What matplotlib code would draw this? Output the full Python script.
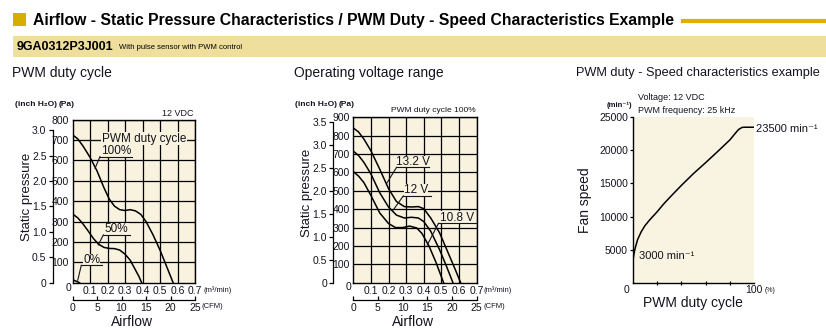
import matplotlib as mpl
mpl.use('Agg')
import matplotlib.pyplot as plt
from matplotlib import font_manager
from matplotlib.patches import Rectangle
from matplotlib.lines import Line2D


def has_font(name):
    try:
        font_manager.findfont(name, fallback_to_default=False)
        return True
    except ValueError:
        return False


NARROW = 'Liberation Sans Narrow' if has_font('Liberation Sans Narrow') else 'Liberation Sans'
plt.rcParams['font.family'] = ['Liberation Sans', 'DejaVu Sans']

# ---- data -------------------------------------------------------------
PA_PER_INCH = 249.09

# PWM duty cycle (12 VDC)
flow_100 = [0, 0.03, 0.06, 0.10, 0.14, 0.18, 0.21, 0.24, 0.27, 0.30, 0.33, 0.36, 0.39, 0.42, 0.46, 0.50, 0.54, 0.575]
pa_100 = [725, 705, 670, 615, 548, 465, 410, 375, 358, 354, 358, 352, 335, 300, 235, 160, 75, 0]
flow_50 = [0, 0.03, 0.06, 0.09, 0.12, 0.15, 0.18, 0.21, 0.24, 0.27, 0.30, 0.33, 0.36, 0.38, 0.395]
pa_50 = [337, 318, 288, 253, 216, 188, 173, 168, 167, 160, 140, 110, 62, 30, 0]
flow_0 = [0, 0.04]
pa_0 = [15, 0]

# operating voltage range (PWM 100%)
flow_132 = [0, 0.03, 0.06, 0.10, 0.15, 0.20, 0.245, 0.29, 0.33, 0.37, 0.40, 0.44, 0.49, 0.54, 0.58, 0.61]
pa_132 = [842, 820, 782, 718, 618, 512, 442, 414, 412, 414, 403, 352, 272, 160, 70, 0]
flow_120 = [0, 0.03, 0.06, 0.10, 0.15, 0.20, 0.245, 0.29, 0.33, 0.37, 0.40, 0.44, 0.49, 0.53, 0.566]
pa_120 = [716, 692, 655, 592, 490, 412, 368, 352, 356, 352, 333, 280, 180, 88, 0]
flow_108 = [0, 0.03, 0.06, 0.10, 0.15, 0.20, 0.24, 0.28, 0.32, 0.36, 0.39, 0.43, 0.47, 0.513]
pa_108 = [604, 580, 545, 475, 380, 322, 300, 300, 308, 298, 268, 200, 110, 0]

# PWM duty - speed
duty = [0, 1, 2, 4, 7, 10, 14, 20, 25, 30, 40, 50, 60, 70, 80, 84, 87, 90, 93, 100]
speed = [3000, 4300, 5200, 6500, 7700, 8600, 9500, 10700, 11800, 12800, 14700, 16500, 18150, 19850,
         21600, 22500, 23150, 23480, 23500, 23500]

flow_ticks = [0.1, 0.2, 0.3, 0.4, 0.5, 0.6, 0.7]
cfm_ticks = [0, 5, 10, 15, 20, 25]

# ---- figure -----------------------------------------------------------
W, H = 826, 333
fig = plt.figure(figsize=(W / 100, H / 100), dpi=100)
INK = '#14141f'
BG = '#f8f2de'
GOLD = '#d6ad00'


def box(l, t, r, b):
    return [l / W, 1 - b / H, (r - l) / W, (b - t) / H]


def ftext(x, y, s, **kw):
    kw.setdefault('color', INK)
    kw.setdefault('va', 'center')
    return fig.text(x / W, 1 - y / H, s, **kw)


# header
fig.patches.append(Rectangle((13.3 / W, 1 - 26 / H), 12.7 / W, 12.7 / H, transform=fig.transFigure,
                             color=GOLD, lw=0))
ftext(33, 20, 'Airflow - Static Pressure Characteristics / PWM Duty - Speed Characteristics Example',
      size=11.3, weight='bold', color='black')
fig.lines.append(Line2D([683 / W, 1], [1 - 20.5 / H] * 2, transform=fig.transFigure, color='#d9b300', lw=3))
fig.patches.append(Rectangle((12.7 / W, 1 - 57 / H), 1, 21.3 / H, transform=fig.transFigure,
                             color='#efdf9c', lw=0))
ftext(16.7, 47, '9GA0312P3J001', size=9, weight='bold', color='black')
ftext(119, 47.5, 'With pulse sensor with PWM control', size=5.5, color='black')


def pressure_panel(rect, inch_x, pa_max, inch_max):
    ax = fig.add_axes(rect)
    ax.set_facecolor(BG)
    ax.set_xlim(0, 0.7)
    ax.set_ylim(0, pa_max)
    ax.set_xticks(flow_ticks)
    ax.set_xticklabels([f'{v:.1f}' for v in flow_ticks])
    ax.set_yticks(range(100, pa_max + 1, 100))
    ax.grid(True, color='black', lw=0.9)
    ax.set_axisbelow(True)
    ax.tick_params(length=0, pad=2.5, labelsize=7.5, labelcolor=INK, labelfontfamily=NARROW)
    for s in ax.spines.values():
        s.set_linewidth(1.0)

    # inch H2O scale
    l, b, w, h = rect
    axi = fig.add_axes([inch_x / W, b, 0.0001, h])
    axi.patch.set_visible(False)
    axi.set_ylim(0, pa_max / PA_PER_INCH)
    ticks = [i * 0.5 for i in range(int(inch_max / 0.5) + 1)]
    axi.set_yticks(ticks)
    axi.set_yticklabels(['0' if t == 0 else f'{t:.1f}' for t in ticks])
    axi.set_xticks([])
    for k in ['top', 'right', 'bottom']:
        axi.spines[k].set_visible(False)
    axi.spines['left'].set_bounds(0, inch_max)
    axi.spines['left'].set_linewidth(0.9)
    axi.tick_params(axis='y', length=3, width=0.9, pad=1.5, labelsize=7.5, labelcolor=INK,
                    labelfontfamily=NARROW)

    # CFM scale
    axc = fig.add_axes([l, 1 - 300 / H, w, 0.0001])
    axc.patch.set_visible(False)
    axc.set_xlim(0, 25)
    axc.set_xticks(cfm_ticks)
    axc.set_yticks([])
    for k in ['top', 'right', 'left']:
        axc.spines[k].set_visible(False)
    axc.spines['bottom'].set_linewidth(0.9)
    axc.tick_params(axis='x', direction='in', length=3, width=0.9, pad=2, labelsize=7.5,
                    labelcolor=INK, labelfontfamily=NARROW)
    return ax


def callout(ax, label, tx, ty, ul, uy, tip):
    # underline + leader drawn above the text's masking box
    ax.plot(ul, [uy, uy], color=INK, lw=0.8, zorder=5)
    ax.plot([ul[0], tip[0]], [uy, tip[1]], color=INK, lw=0.8, zorder=5)
    ax.text(tx, ty, label, ha='center', va='center', size=8.5, color=INK, zorder=4,
            bbox=dict(fc=BG, ec='none', pad=0.2))


# ---- panel 1: PWM duty cycle -------------------------------------------
ax1 = pressure_panel(box(72.5, 119.5, 195, 282.7), 52.7, 800, 3.0)
ax1.plot(flow_100, pa_100, color='black', lw=1.1)
ax1.plot(flow_50, pa_50, color='black', lw=1.1)
ax1.plot(flow_0, pa_0, color='black', lw=1.1)
ax1.plot([0.06, 0.68], [700, 700], color=INK, lw=0.8)
ax1.text(0.41, 706, 'PWM duty cycle', ha='center', va='center', size=8.5, color=INK,
         bbox=dict(fc=BG, ec='none', pad=0.5))
callout(ax1, '100%', 0.252, 645, [0.157, 0.338], 618, (0.129, 561))
callout(ax1, '50%', 0.252, 261, [0.176, 0.329], 234, (0.147, 185))
callout(ax1, '0%', 0.11, 110, [0.05, 0.17], 85, (0.03, 12))

ftext(12, 73, 'PWM duty cycle', size=10)
ftext(15, 105, '(inch H\u2082O)', size=6, weight='bold', family=[NARROW, 'DejaVu Sans'])
ftext(59, 105, '(Pa)', size=6, weight='bold', family=NARROW)
ftext(193, 113, '12 VDC', size=6.5, ha='right')
ftext(68, 288, '0', size=7.5, ha='center', family=NARROW)
ftext(203, 290, '(m\u00b3/min)', size=5.5, family=NARROW)
ftext(202, 307, '(CFM)', size=5.5, family=NARROW)
ftext(26.7, 196.7, 'Static pressure', size=9.5, rotation=90, ha='center')
ftext(131.7, 321.7, 'Airflow', size=10, ha='center')

# ---- panel 2: operating voltage range ----------------------------------
ax2 = pressure_panel(box(353.3, 117.3, 476.5, 282.7), 333.3, 900, 3.5)
ax2.plot(flow_132, pa_132, color='black', lw=1.1)
ax2.plot(flow_120, pa_120, color='black', lw=1.1)
ax2.plot(flow_108, pa_108, color='black', lw=1.1)
callout(ax2, '13.2 V', 0.339, 657, [0.246, 0.431], 628, (0.19, 541))
callout(ax2, '12 V', 0.357, 502, [0.284, 0.44], 472, (0.227, 396))
callout(ax2, '10.8 V', 0.59, 354, [0.484, 0.7], 323, (0.42, 205))

ftext(294, 73, 'Operating voltage range', size=10)
ftext(295, 105, '(inch H\u2082O)', size=6, weight='bold', family=[NARROW, 'DejaVu Sans'])
ftext(339, 105, '(Pa)', size=6, weight='bold', family=NARROW)
ftext(476, 110, 'PWM duty cycle 100%', size=6, ha='right')
ftext(349, 287, '0', size=7.5, ha='center', family=NARROW)
ftext(483, 290, '(m\u00b3/min)', size=5.5, family=NARROW)
ftext(483, 307, '(CFM)', size=5.5, family=NARROW)
ftext(306.7, 193, 'Static pressure', size=9.5, rotation=90, ha='center')
ftext(413.3, 321.7, 'Airflow', size=10, ha='center')

# ---- panel 3: PWM duty - speed -----------------------------------------
ax3 = fig.add_axes(box(632.7, 117.3, 754.3, 282.7))
ax3.set_facecolor('#f9f4e2')
ax3.plot(duty, speed, color='black', lw=1.1)
ax3.set_xlim(0, 100)
ax3.set_ylim(0, 25000)
ax3.set_xticks([20, 40, 60, 80])
ax3.set_xticklabels([])
ax3.set_yticks([5000, 10000, 15000, 20000, 25000])
ax3.spines['top'].set_visible(False)
ax3.spines['right'].set_visible(False)
for s in ['left', 'bottom']:
    ax3.spines[s].set_linewidth(1.0)
ax3.tick_params(axis='y', length=2, width=0.9, pad=1.5, labelsize=7.5, labelcolor=INK,
                labelfontfamily=NARROW)
ax3.tick_params(axis='x', direction='inout', length=3, width=0.9)

ftext(576, 73, 'PWM duty - Speed characteristics example', size=9.2)
ftext(607, 105.7, '(min\u207b\u00b9)', size=5.5, weight='bold', family=[NARROW, 'DejaVu Sans'])
ftext(638, 97.3, 'Voltage: 12 VDC', size=6.5)
ftext(638, 110.7, 'PWM frequency: 25 kHz', size=6.5)
ftext(756, 129.3, '23500 min\u207b\u00b9', size=8, family=[NARROW, 'DejaVu Sans'])
ftext(639, 256, '3000 min\u207b\u00b9', size=8, family=[NARROW, 'DejaVu Sans'])
ftext(627, 290, '0', size=7.5, ha='center', family=NARROW)
ftext(754.3, 290, '100', size=7.5, ha='center', family=NARROW)
ftext(765, 290, '(%)', size=5, family=NARROW)
ftext(693.3, 303.3, 'PWM duty cycle', size=10, ha='center')
ftext(585, 200, 'Fan speed', size=10, rotation=90, ha='center')

fig.savefig('out.png', dpi=100)
